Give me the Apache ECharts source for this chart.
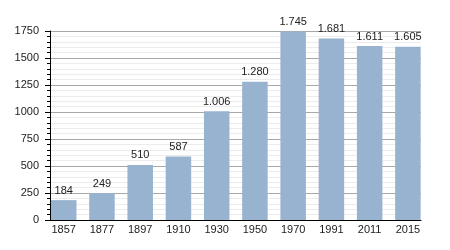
<!DOCTYPE html>
<html><head><meta charset="utf-8">
<script src="https://cdn.jsdelivr.net/npm/echarts@6/dist/echarts.min.js"></script>
<style>html,body{margin:0;padding:0;background:#fff}#c{width:450px;height:250px}</style>
</head><body><div id="c"></div>
<script>
const categories = ['1857','1877','1897','1910','1930','1950','1970','1991','2011','2015'];
const values = [184, 249, 510, 587, 1006, 1280, 1745, 1681, 1611, 1605];
const yTicks = [0, 250, 500, 750, 1000, 1250, 1500, 1750];

function fmt(v){ return String(v).replace(/\B(?=(\d{3})+(?!\d))/g, '.'); }
const font = 'Liberation Sans, Arial, sans-serif';
const chart = echarts.init(document.getElementById('c'), null, {renderer:'canvas'});
chart.setOption({
  animation: false,
  backgroundColor: '#fff',
  grid: [
    {left: 50, right: 29, top: 31, bottom: 30},
    {left: 44.6, right: 23, top: 31, bottom: 30}
  ],
  xAxis: [
    {type:'category', gridIndex:0, data: categories,
     axisLine:{show:true, lineStyle:{color:'#000', width:1}},
     axisTick:{show:false}, axisLabel:{show:false}, splitLine:{show:false}},
    {type:'category', gridIndex:1, data: categories,
     axisLine:{show:false}, axisTick:{show:false},
     axisLabel:{show:true, color:'#222', fontSize:11, fontFamily:font, margin:4, interval:0}}
  ],
  yAxis: [
    {type:'value', gridIndex:0, min:0, max:1750, interval:250,
     axisLine:{show:true, lineStyle:{color:'#000', width:1}},
     axisTick:{show:true, length:5, lineStyle:{color:'#000'}},
     minorTick:{show:true, splitNumber:5, length:3, lineStyle:{color:'#000'}},
     splitLine:{show:true, lineStyle:{color:'#a8a8a8', width:1}},
     minorSplitLine:{show:true, lineStyle:{color:'#ececec', width:1}},
     axisLabel:{color:'#222', fontSize:11, fontFamily:font, margin:11,
       formatter: v => yTicks.includes(v) ? String(v) : ''}},
    {type:'value', gridIndex:1, min:0, max:1750, show:false, splitLine:{show:false}}
  ],
  series: [{
    type:'bar', xAxisIndex:1, yAxisIndex:1, data: values, barWidth:25.5,
    itemStyle:{color:'#98b3cf'},
    label:{show:true, position:'top', distance:4, color:'#222', fontSize:11, fontFamily:font,
      formatter: p => fmt(p.value)}
  }]
});
</script></body></html>
